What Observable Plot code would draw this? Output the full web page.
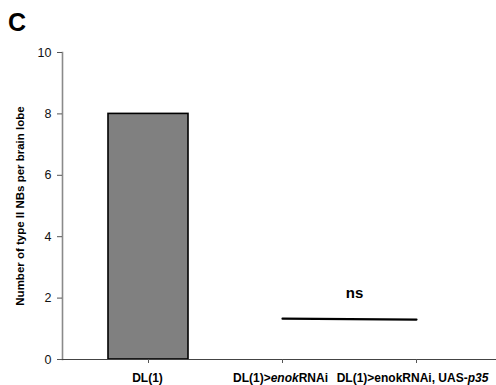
<!DOCTYPE html>
<html>
<head>
<meta charset="utf-8">
<script src="https://cdn.jsdelivr.net/npm/d3@7"></script>
<script src="https://cdn.jsdelivr.net/npm/@observablehq/plot@0.6"></script>
<style>
  body { margin: 0; background: #fff; font-family: "Liberation Sans", Arial, sans-serif; }
  #wrap { position: relative; width: 496px; height: 385px; }
  #panel { position: absolute; left: 8px; top: 8px; font: bold 25px "Liberation Sans", Arial, sans-serif; line-height: 29px; }
</style>
</head>
<body>
<div id="wrap"><div id="panel">C</div></div>
<script>
const categories = ["DL(1)", "DL(1)>enokRNAi", "DL(1)>enokRNAi, UAS-p35"];
// label parts: [text, italic?]
const labelParts = [
  [["DL(1)", false]],
  [["DL(1)>", false], ["enok", true], ["RNAi", false]],
  [["DL(1)>enokRNAi, UAS-", false], ["p35", true]]
];
const labelShift = [-1, -2, -4];
const barValues = [8];
const barCategories = [categories[0]];
const lineCategories = [categories[1], categories[2]];
const lineValues = [1.33, 1.30];
const yTicks = [0, 2, 4, 6, 8, 10];
const yLabel = "Number of type II NBs per brain lobe";
const sigLabel = "ns";
const sigValue = 2.15;

const bars = barCategories.map((c, i) => ({cat: c, v: barValues[i]}));
const line = lineCategories.map((c, i) => ({cat: c, v: lineValues[i]}));

const chart = Plot.plot({
  width: 496,
  height: 385,
  marginLeft: 62,
  marginRight: 0,
  marginTop: 52,
  marginBottom: 26,
  style: {fontFamily: "Liberation Sans, Arial, sans-serif", background: "white", color: "black"},
  x: {type: "band", domain: categories, range: [63, 500], paddingInner: 0.406, paddingOuter: 0.33},
  y: {domain: [0, 10]},
  marks: [
    Plot.barY(bars, {x: "cat", y: "v", fill: "#808080", stroke: "black", strokeWidth: 1.6}),
    Plot.frame({anchor: "left", stroke: "#8a8a8a", strokeWidth: 1.6}),
    Plot.ruleY([0], {stroke: "#444", strokeWidth: 1}),
    Plot.line(line, {x: "cat", y: "v", stroke: "black", strokeWidth: 2.2}),
    Plot.text([sigLabel], {x: () => categories[2], y: () => sigValue, text: d => d, dx: -62, fontSize: 15, fontWeight: "bold", fill: "black"}),
    Plot.axisY({ticks: yTicks, tickSize: 5, tickPadding: 6, fontSize: 12.5, stroke: "#555", fill: "#111",
      label: yLabel, labelAnchor: "center", labelArrow: "none", labelOffset: 47}),
    Plot.axisX({tickSize: 4, tickPadding: 10, fontSize: 12, fontWeight: "bold", stroke: "#555", fill: "black", label: null})
  ]
});
document.getElementById("wrap").appendChild(chart);

// bold, slightly larger y-axis title
d3.select(chart).selectAll("[aria-label='y-axis label'], [aria-label='y-axis label'] text")
  .attr("font-weight", "bold").attr("font-size", 11.5).attr("fill", "black");

// x tick labels with italic parts
d3.select(chart).selectAll("[aria-label='x-axis tick label'] text").each(function() {
  const t = d3.select(this);
  const idx = categories.indexOf(t.text());
  if (idx < 0) return;
  t.text(null);
  if (labelShift[idx]) t.attr("dx", labelShift[idx]);
  labelParts[idx].forEach(([s, it]) => {
    t.append("tspan").attr("font-style", it ? "italic" : null).text(s);
  });
});
</script>
</body>
</html>
